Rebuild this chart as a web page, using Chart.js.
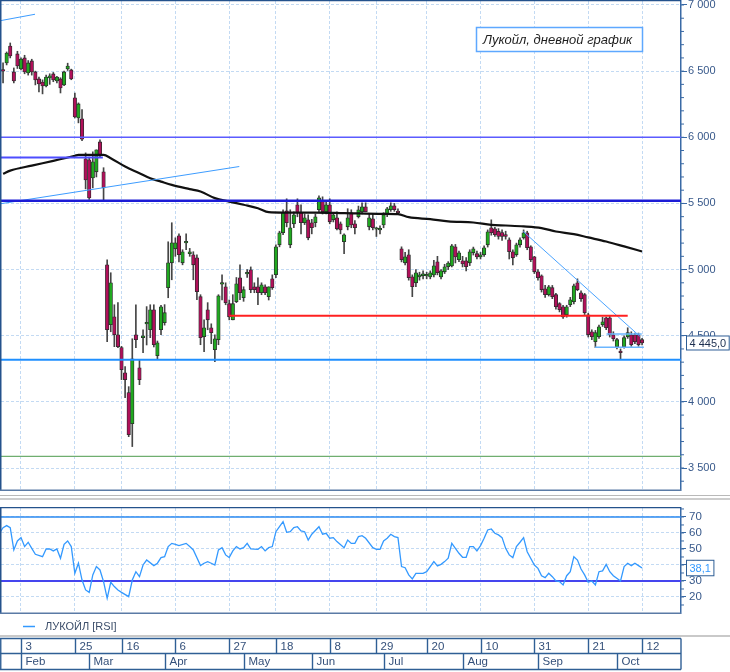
<!DOCTYPE html>
<html lang="ru">
<head>
<meta charset="utf-8">
<title>Лукойл, дневной график</title>
<script src="https://cdn.jsdelivr.net/npm/chart.js"></script>
<style>
  html, body { margin:0; padding:0; background:#ffffff; }
  body { width:730px; height:672px; position:relative; overflow:hidden; }
  .pane { position:absolute; left:0; width:730px; }
  #mainPane { top:0; height:492px; }
  #rsiPane { top:500px; height:136px; }
  #datePane { top:636px; height:36px; }
  .sep { position:absolute; left:0; width:730px; }
</style>
</head>
<body>
<div class="pane" id="mainPane"><canvas id="mainChart"></canvas></div>
<div class="sep" style="top:495px;height:1px;background:#b9b9b9"></div>
<div class="sep" style="top:498px;height:2px;background:#cdcdcd"></div>
<div class="pane" id="rsiPane"><canvas id="rsiChart"></canvas></div>
<div class="sep" style="top:635px;height:2px;background:#c9c9c9"></div>
<div class="pane" id="datePane"><canvas id="dateChart"></canvas></div>
<script>
// ---------- DATA (trading-day index 0 = 27 Jan 2020) ----------
const opens = [6505,6562,6690,6494,6630,6517,6600,6486,6577,6494,
6441,6418,6388,6449,6479,6426,6441,6396,6517,6509,
6298,6146,6140,5837,5829,5693,5739,5965,5739,5036,
4583,4643,4507,4410,4220,4070,3835,4507,4258,4485,
4590,4545,4696,4349,4545,4598,4863,5051,5157,5255,
5051,5202,5120,5112,5089,4795,4492,4696,4560,4394,
4470,4890,4870,4742,4620,4757,4938,4787,4968,4998,
4870,4870,4825,4870,4795,4930,4961,5187,5278,5444,
5187,5346,5490,5429,5354,5376,5354,5354,5452,5520,
5437,5490,5376,5391,5346,5210,5323,5429,5346,5399,
5437,5474,5323,5384,5305,5300,5338,5420,5452,5482,
5435,5157,5051,5112,4945,4900,4945,4953,4952,4945,
4960,5058,4945,4983,5021,5028,5172,5074,5066,5066,
5051,5127,5120,5096,5112,5187,5316,5308,5290,5280,
5265,5225,5135,5112,5187,5240,5278,5172,5096,4983,
4953,4855,4810,4863,4810,4742,4719,4658,4734,4757,
4900,4825,4810,4658,4530,4455,4492,4583,4635,4635,
4507,4417,4375,4417,4492,4507,4507,4507,4470];
const highs = [6562,6645,6713,6524,6650,6600,6620,6580,6590,6500,
6456,6434,6470,6480,6490,6460,6450,6500,6560,6515,
6335,6260,6210,5882,5850,5890,5905,5980,5770,5074,
4976,4734,4750,4420,4266,4115,4477,4734,4319,4545,
4720,4734,4734,4460,4730,4735,5210,5354,5240,5270,
5150,5270,5160,5135,5112,4810,4620,4750,4590,4507,
4810,4960,4900,4770,4810,4940,5036,4870,5000,5020,
4900,4938,4900,4885,4870,4960,5187,5290,5452,5535,
5452,5437,5535,5490,5420,5414,5380,5420,5557,5550,
5520,5535,5430,5437,5360,5270,5460,5452,5370,5480,
5505,5505,5420,5420,5320,5330,5430,5470,5505,5500,
5460,5172,5130,5150,4960,5000,4980,4990,4980,4990,
5070,5100,5000,5040,5060,5190,5190,5140,5100,5090,
5150,5170,5140,5130,5180,5300,5376,5320,5310,5300,
5290,5240,5150,5200,5240,5300,5290,5180,5100,5000,
4960,4880,4880,4880,4820,4750,4730,4730,4790,4890,
4930,4840,4820,4670,4545,4540,4580,4640,4640,4650,
4530,4480,4400,4500,4560,4530,4520,4520,4480];
const lows = [6411,6547,6600,6411,6520,6510,6480,6470,6470,6396,
6343,6328,6380,6400,6420,6410,6335,6390,6505,6435,
6146,6109,5975,5610,5530,5618,5700,5852,5527,4455,
4530,4417,4410,4168,4032,3737,3662,4410,4130,4372,
4430,4485,4415,4325,4507,4580,4787,4923,5100,5058,
5036,5150,5100,4923,4772,4432,4380,4545,4440,4303,
4432,4770,4734,4620,4620,4750,4772,4760,4940,4825,
4825,4735,4810,4810,4770,4850,4938,5172,5263,5323,
5165,5316,5399,5270,5340,5225,5270,5323,5437,5420,
5420,5346,5360,5300,5270,5120,5300,5316,5270,5390,
5420,5437,5300,5300,5250,5270,5316,5400,5440,5440,
5420,5058,5036,4920,4795,4870,4920,4930,4930,4930,
4945,4960,4930,4970,5000,5020,5050,5060,5020,4990,
5030,5110,5080,5080,5100,5170,5260,5250,5230,5220,
5230,5080,5036,5100,5170,5230,5150,5060,4970,4920,
4830,4790,4800,4780,4700,4680,4630,4640,4720,4740,
4840,4760,4660,4490,4470,4410,4480,4570,4545,4490,
4460,4400,4320,4405,4480,4420,4440,4420,4430];
const closes = [6500,6637,6615,6426,6539,6592,6494,6562,6494,6434,
6403,6388,6456,6464,6434,6456,6373,6494,6539,6441,
6154,6252,5985,5678,5542,5814,5905,5867,5618,4545,
4900,4507,4417,4243,4168,3752,4326,4470,4168,4500,
4600,4696,4432,4447,4719,4674,5051,5202,5202,5112,
5135,5210,5135,5036,4832,4485,4560,4620,4523,4477,
4802,4900,4750,4643,4742,4893,4825,4848,4975,4848,
4848,4825,4885,4825,4870,4863,5172,5278,5429,5354,
5316,5414,5429,5354,5391,5240,5316,5399,5542,5437,
5490,5361,5414,5308,5300,5263,5391,5338,5316,5452,
5474,5437,5391,5316,5310,5305,5414,5460,5482,5452,
5430,5074,5096,4938,4870,4976,4960,4968,4957,4976,
5028,4976,4990,5021,5050,5180,5096,5127,5043,5021,
5135,5157,5096,5112,5165,5285,5278,5263,5250,5250,
5250,5135,5089,5187,5225,5278,5165,5074,4983,4938,
4848,4810,4870,4795,4719,4696,4643,4719,4772,4878,
4848,4780,4674,4507,4492,4523,4568,4605,4560,4507,
4477,4470,4372,4485,4523,4432,4455,4432,4445];

// moving average read at these trading days
const maDays   = [0,2,8,14,20,21,28,30,34,38,41,44,47,52,55,59,63,67,71,74,78,87,95,106,110,113,119,124,131,136,140,145,150,154,159,163,168,173,178];
const maValues = [5724,5748,5786,5822,5860,5867,5867,5842,5779,5729,5691,5665,5640,5608,5590,5540,5514,5490,5464,5434,5431,5431,5427,5421,5419,5396,5381,5364,5356,5338,5333,5326,5313,5288,5268,5243,5212,5175,5137];

// RSI read at these trading days
const rsiDays = [-1,0,1,2,3,4,5,6,7,8,9,11,12,13,14,15,16,17,18,19,20,21,22,23,24,25,26,27,28,29,30,31,32,33,35,36,37,38,39,40,42,43,44,45,46,47,48,49,51,52,53,55,56,57,58,59,60,61,62,63,64,65,66,67,68,69,71,72,73,74,75,76,77,78,79,80,81,82,83,84,85,86,88,89,90,91,92,93,95,96,97,98,99,100,101,103,104,105,106,107,108,109,110,111,112,113,114,115,117,118,120,121,122,123,124,125,126,127,128,129,130,131,132,133,134,135,136,137,138,139,140,141,142,143,144,145,146,148,149,150,151,152,153,154,155,156,157,158,159,160,161,162,163,164,165,166,167,168,169,170,172,173,174,175,176,177,178];
const rsiValues = [59.8,63.3,64.6,63.3,49.4,55,57.1,51.5,54.2,50.4,46.7,45.2,50,50,48.8,50,44.2,52.9,55,51.5,34.8,41.1,30.6,24.4,22.9,33.8,39,36.9,29.6,19.2,29.2,26.5,24.4,22.9,20.2,30.6,35.8,32.7,40,43.1,39.6,41.1,44.6,45.2,51.5,53.5,52.9,52.1,53.5,51.5,49.4,39.6,41.1,42.1,41.1,40,49.4,50.8,46.3,44.6,48.8,51.5,50,50.8,53.5,50,49.8,51.5,48.8,50.8,51.5,60.8,63.9,67.1,60.4,60.8,63.3,63.9,61.3,60.8,55.6,59.2,63.9,59.2,59.8,56.7,57.1,54.6,50.8,55.6,53.5,53.5,57.7,58.3,56.7,50.8,49.8,49.8,55,56.7,59.2,57.7,57.1,39,38.3,33.8,31.3,34.8,34.8,35.8,42.1,39.4,40.4,42.1,44.2,53.5,50.4,47.3,44.8,44.8,51.5,51.5,48.8,52.1,56.7,61.9,62.5,59.8,58.8,57.1,50.4,46.3,44.6,51.5,54.2,57.1,48.3,40,37.9,33.3,32.1,34.8,32.7,30,29.6,27.5,33.3,35.8,45.2,43.1,37.5,33.8,29.2,30,27.5,35.8,36.3,40.4,35.8,33.3,30,39,41.1,39.6,41.1,39.6,38.1];

// date axis
const dayTickIdx    = [5,20,33,48,63,76,91,104,118,133,148,163,178];
const dayTickLabels = ['3','25','16','6','27','18','8','29','20','10','31','21','12'];
const monthStartIdx = [5,24,45,67,86,106,128,149,171];
const monthLabels   = ['Feb','Mar','Apr','May','Jun','Jul','Aug','Sep','Oct'];

// value axes
const priceTicks = [3500,4000,4500,5000,5500,6000,6500,7000];
const rsiTicks   = [20,30,40,50,60,70];
const rsiLevels  = [70,30];

// drawn lines (levels across the whole chart and segments)
const levelPrices    = [6000,5520,4319,3588];
const segStartDay    = [-0.85,-0.85,-0.85,63,144.9,168.1,164.9];
const segEndDay      = [8.9,65.8,27.8,174,177.4,177.9,178.5];
const segStartPrice  = [6881,5497,5847,4651,5288,4513,4412];
const segEndPrice    = [6930,5779,5847,4651,4495,4513,4412];

// ---------- STYLE / LAYOUT ----------
const FONT = '"Liberation Sans", Arial, sans-serif';
const AXIS = '#3a6aa5';
const AXIS_TEXT = '#37588a';
const GRID = '#c3daf3';
const UP = '#20a820', DOWN = '#b0105a';
const X_MIN = -0.571, X_MAX = 188.844;
const P_MIN = 3333.7, P_MAX = 7030.2;
const R_MIN = 10, R_MAX = 75.6;
const levelStyle = [['#5b5bff',1.5],['#1c1cd6',2.5],['#1f8fff',2],['#6fae6f',1.2]];
const segStyle   = [['#3d9cff',1],['#3d9cff',1],['#4d4dff',2],['#ff2020',2],['#4aa3ff',1],['#6bb6ff',1.5],['#6bb6ff',1.5]];
const rsiLevelStyle = [['#2b8af0',1.5],['#4545ee',2]];

Chart.defaults.font.family = FONT;

const fmt = v => String(Math.round(v)).replace(/\B(?=(\d{3})+(?!\d))/g, ' ');

function xScale(extra) {
  return Object.assign({
    type: 'linear', min: X_MIN, max: X_MAX, offset: false,
    afterBuildTicks: s => { s.ticks = dayTickIdx.map(v => ({ value: v })); },
    ticks: { display: false },
    grid: { color: GRID, drawTicks: false, offset: false, lineWidth: 1 },
    border: { display: false, dash: [3, 2] },
    afterFit: s => { s.height = 0; }
  }, extra || {});
}

const framePlugin = {
  id: 'frame',
  afterDraw(chart) {
    const { left, top, bottom, right } = chart.chartArea;
    const ctx = chart.ctx;
    ctx.save();
    ctx.strokeStyle = '#24528c';
    ctx.lineWidth = 2;
    ctx.beginPath(); ctx.moveTo(left - 0.5, top - 1); ctx.lineTo(left - 0.5, bottom + 1); ctx.stroke();
    ctx.lineWidth = 1.2;
    ctx.beginPath(); ctx.moveTo(left - 1, top - 0.4); ctx.lineTo(right, top - 0.4); ctx.stroke();
    ctx.strokeStyle = '#5a7aa5';
    ctx.lineWidth = 1.5;
    ctx.beginPath(); ctx.moveTo(left - 1, bottom + 0.2); ctx.lineTo(right, bottom + 0.2); ctx.stroke();
    ctx.restore();
  }
};

const minorTicksPlugin = {
  id: 'minorTicks',
  afterDraw(chart, args, o) {
    const s = chart.scales.y, ctx = chart.ctx, ca = chart.chartArea;
    ctx.save();
    ctx.strokeStyle = AXIS; ctx.lineWidth = 1;
    for (let v = o.from; v <= o.to; v += o.step) {
      const y = s.getPixelForValue(v);
      if (y < ca.top || y > ca.bottom) continue;
      ctx.beginPath(); ctx.moveTo(s.left, y); ctx.lineTo(s.left + o.len, y); ctx.stroke();
    }
    ctx.restore();
  }
};

const valueBoxPlugin = {
  id: 'valueBox',
  afterDraw(chart, args, o) {
    const s = chart.scales.y, ctx = chart.ctx;
    const y = s.getPixelForValue(o.value);
    ctx.save();
    ctx.font = '11px ' + FONT;
    const w = ctx.measureText(o.text).width + 6;
    const x = s.left + 5.5;
    ctx.fillStyle = '#ffffff';
    ctx.fillRect(x, y - o.h / 2, w, o.h);
    ctx.strokeStyle = '#2d5d95'; ctx.lineWidth = 1;
    ctx.strokeRect(x, y - o.h / 2, w, o.h);
    ctx.fillStyle = o.color;
    ctx.textBaseline = 'middle';
    ctx.fillText(o.text, x + 3, y + 0.5);
    ctx.restore();
  }
};

const titleBoxPlugin = {
  id: 'titleBox',
  afterDraw(chart, args, o) {
    const ctx = chart.ctx;
    ctx.save();
    ctx.fillStyle = '#ffffff';
    ctx.fillRect(476.5, 27.5, 166, 24);
    ctx.strokeStyle = '#5ea8ff'; ctx.lineWidth = 1.5;
    ctx.strokeRect(476.5, 27.5, 166, 24);
    ctx.fillStyle = '#1e1e1e';
    ctx.font = 'italic 13px ' + FONT;
    ctx.textBaseline = 'middle';
    ctx.fillText(o.text, 483, 40);
    ctx.restore();
  }
};

const rsiLegendPlugin = {
  id: 'rsiLegend',
  afterDraw(chart) {
    const ctx = chart.ctx, ds = chart.data.datasets[0];
    const y = chart.chartArea.bottom + 13.5;
    ctx.save();
    ctx.strokeStyle = ds.borderColor; ctx.lineWidth = 1.5;
    ctx.beginPath(); ctx.moveTo(23, y); ctx.lineTo(35, y); ctx.stroke();
    ctx.fillStyle = '#3d4f6b';
    ctx.font = '11px ' + FONT;
    ctx.textBaseline = 'middle';
    ctx.fillText(ds.label, 45, y);
    ctx.restore();
  }
};

const dateAxisPlugin = {
  id: 'dateAxis',
  afterDraw(chart) {
    const ctx = chart.ctx, xs = chart.scales.x;
    const L = 0.75, R = chart.chartArea.right;
    const y0 = 2.5, y1 = 17.5, y2 = 33.5;
    ctx.save();
    ctx.strokeStyle = '#2f5f95'; ctx.lineWidth = 1.4;
    [y0, y1, y2].forEach(y => { ctx.beginPath(); ctx.moveTo(0, y); ctx.lineTo(R, y); ctx.stroke(); });
    [L, R].forEach(x => { ctx.beginPath(); ctx.moveTo(x, y0); ctx.lineTo(x, y2); ctx.stroke(); });
    ctx.fillStyle = '#34507a';
    ctx.font = '11.5px ' + FONT;
    ctx.textBaseline = 'middle';
    dayTickIdx.forEach((d, k) => {
      const x = Math.round(xs.getPixelForValue(d)) + 0.5;
      ctx.beginPath(); ctx.moveTo(x, y0); ctx.lineTo(x, y1); ctx.stroke();
      ctx.fillText(dayTickLabels[k], x + 4, (y0 + y1) / 2 + 0.5);
    });
    monthStartIdx.forEach((d, k) => {
      const x = Math.round(xs.getPixelForValue(d)) + 0.5;
      ctx.beginPath(); ctx.moveTo(x, y1); ctx.lineTo(x, y2); ctx.stroke();
      ctx.fillText(monthLabels[k], x + 4, (y1 + y2) / 2 + 0.5);
    });
    ctx.restore();
  }
};

// ---------- MAIN PRICE CHART ----------
const idx = closes.map((_, i) => i);
const mainDatasets = [];
levelPrices.forEach((p, k) => mainDatasets.push({
  type: 'line', label: 'level ' + p,
  data: [{ x: X_MIN - 2, y: p }, { x: X_MAX + 2, y: p }],
  borderColor: levelStyle[k][0], borderWidth: levelStyle[k][1],
  pointRadius: 0, clip: 0, order: 0
}));
segStartDay.forEach((d, k) => mainDatasets.push({
  type: 'line', label: 'segment ' + k,
  data: [{ x: d, y: segStartPrice[k] }, { x: segEndDay[k], y: segEndPrice[k] }],
  borderColor: segStyle[k][0], borderWidth: segStyle[k][1],
  pointRadius: 0, clip: 0, order: 0
}));
mainDatasets.push({
  type: 'line', label: 'MA',
  data: maDays.map((d, k) => ({ x: d, y: maValues[k] })),
  borderColor: '#111111', borderWidth: 2.2, pointRadius: 0,
  cubicInterpolationMode: 'monotone', clip: 0, order: 1
});
mainDatasets.push({
  type: 'bar', label: 'ЛУКОЙЛ',
  data: idx.map(i => ({ x: i, y: [opens[i], closes[i]] })),
  backgroundColor: idx.map(i => closes[i] >= opens[i] ? UP : DOWN),
  borderColor: '#2a2a2a', borderWidth: 0.8, borderSkipped: false,
  barThickness: 3.5, minBarLength: 1.5, grouped: false, order: 2
});
mainDatasets.push({
  type: 'bar', label: 'range',
  data: idx.map(i => ({ x: i, y: [lows[i], highs[i]] })),
  backgroundColor: '#454545', borderWidth: 0,
  barThickness: 1, grouped: false, order: 3
});

const lastClose = closes[closes.length - 1];
new Chart(document.getElementById('mainChart'), {
  type: 'bar',
  data: { datasets: mainDatasets },
  options: {
    responsive: true, maintainAspectRatio: false, animation: false,
    layout: { padding: { left: 1, top: 1, right: 0, bottom: 2 } },
    plugins: {
      legend: { display: false }, tooltip: { enabled: false },
      minorTicks: { from: 3400, to: 7000, step: 100, len: 3 },
      valueBox: { value: lastClose, text: fmt(Math.floor(lastClose)) + ',' + (lastClose.toFixed(1).split('.')[1]), h: 14, color: '#1d2f4f' },
      titleBox: { text: 'Лукойл, дневной график' }
    },
    scales: {
      x: xScale(),
      y: {
        position: 'right', min: P_MIN, max: P_MAX,
        afterBuildTicks: s => { s.ticks = priceTicks.map(v => ({ value: v })); },
        ticks: { callback: v => fmt(v), color: AXIS_TEXT, font: { size: 11 }, padding: 1 },
        grid: { color: GRID, tickLength: 6, tickColor: AXIS, tickWidth: 1, tickBorderDash: [] },
        border: { display: true, color: AXIS, width: 1.5, dash: [3, 2] },
        afterFit: s => { s.width = 49; s.paddingTop = 0; s.paddingBottom = 0; }
      }
    }
  },
  plugins: [minorTicksPlugin, framePlugin, titleBoxPlugin, valueBoxPlugin]
});

// ---------- RSI CHART ----------
const rsiDatasets = [{
  type: 'line', label: 'ЛУКОЙЛ [RSI]',
  data: rsiDays.map((d, k) => ({ x: d, y: rsiValues[k] })),
  borderColor: '#3399ff', borderWidth: 1.3, pointRadius: 0, clip: 0, order: 0
}];
rsiLevels.forEach((v, k) => rsiDatasets.push({
  type: 'line', label: 'RSI ' + v,
  data: [{ x: X_MIN - 2, y: v }, { x: X_MAX + 2, y: v }],
  borderColor: rsiLevelStyle[k][0], borderWidth: rsiLevelStyle[k][1],
  pointRadius: 0, clip: 0, order: 1
}));
const lastRsi = rsiValues[rsiValues.length - 1];
new Chart(document.getElementById('rsiChart'), {
  type: 'line',
  data: { datasets: rsiDatasets },
  options: {
    responsive: true, maintainAspectRatio: false, animation: false,
    layout: { padding: { left: 1, top: 8, right: 0, bottom: 23 } },
    plugins: {
      legend: { display: false }, tooltip: { enabled: false },
      minorTicks: { from: 15, to: 75, step: 5, len: 3 },
      valueBox: { value: lastRsi, text: lastRsi.toFixed(1).replace('.', ','), h: 15.5, color: '#3399ff' }
    },
    scales: {
      x: xScale(),
      y: {
        position: 'right', min: R_MIN, max: R_MAX,
        afterBuildTicks: s => { s.ticks = rsiTicks.map(v => ({ value: v })); },
        ticks: { callback: v => String(v), color: AXIS_TEXT, font: { size: 11.5 }, padding: 3 },
        grid: { color: GRID, tickLength: 5, tickColor: AXIS, tickWidth: 1, tickBorderDash: [] },
        border: { display: true, color: AXIS, width: 1.5, dash: [3, 2] },
        afterFit: s => { s.width = 49; s.paddingTop = 0; s.paddingBottom = 0; }
      }
    }
  },
  plugins: [minorTicksPlugin, framePlugin, valueBoxPlugin, rsiLegendPlugin]
});

// ---------- DATE AXIS ----------
new Chart(document.getElementById('dateChart'), {
  type: 'line',
  data: { datasets: [] },
  options: {
    responsive: true, maintainAspectRatio: false, animation: false,
    layout: { padding: { left: 1, top: 0, right: 0, bottom: 0 } },
    plugins: { legend: { display: false }, tooltip: { enabled: false } },
    scales: {
      x: xScale({ grid: { display: false } }),
      y: {
        position: 'right', min: 0, max: 1,
        ticks: { display: false }, grid: { display: false }, border: { display: false },
        afterFit: s => { s.width = 49; s.paddingTop = 0; s.paddingBottom = 0; }
      }
    }
  },
  plugins: [dateAxisPlugin]
});
</script>
</body>
</html>
